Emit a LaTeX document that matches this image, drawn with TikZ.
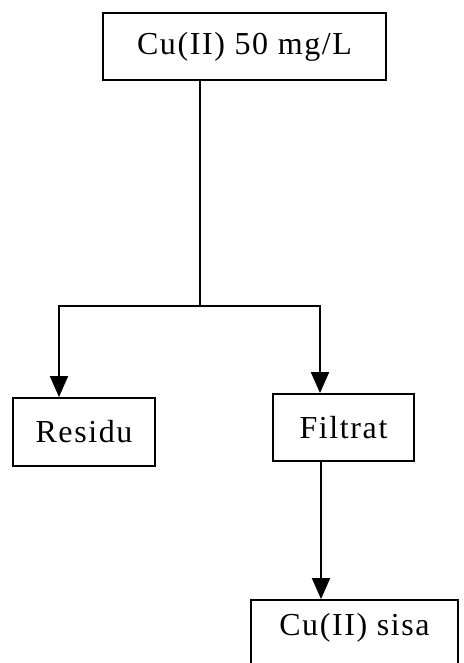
\documentclass[tikz,border=0pt]{standalone}
\usepackage{fontspec}
\setmainfont{Liberation Serif}
\usetikzlibrary{arrows.meta}
\tikzset{
  box/.style={draw, line width=1.9pt, rectangle, inner sep=0pt,
    font=\fontsize{32}{36}\selectfont\addfontfeature{LetterSpace=5}},
  link/.style={line width=1.9pt},
  arr/.style={line width=1.9pt, -{Triangle[width=18pt,length=21pt]}},
}
\begin{document}
\begin{tikzpicture}[x=1pt, y=-1pt]
  \useasboundingbox (0,0) rectangle (463,663);
  \clip (0,0) rectangle (463,663);
  % boxes
  \node[box, minimum width=283pt, minimum height=67pt] (top) at (244.5,46.5) {Cu(II) 50 mg/L};
  \node[box, minimum width=142pt, minimum height=68pt] (residu) at (84,432) {Residu};
  \node[box, minimum width=141pt, minimum height=67pt] (filtrat) at (343.5,427.5) {Filtrat};
  \node[box, minimum width=207pt, minimum height=100pt, text depth=52pt] (sisa) at (354.5,650) {Cu(II) sisa};
  % branch points
  \coordinate (split) at (200,306);
  \coordinate (lc) at (59,306);
  \coordinate (rc) at (320,306);
  \coordinate (fs) at (321,470);
  % connectors
  \draw[link] (top.south -| split) -- (split);
  \draw[arr] (split) -| (lc |- residu.north);
  \draw[arr] (split) -| (rc |- filtrat.north);
  \draw[arr] (filtrat.south -| fs) -- (fs |- sisa.north);
\end{tikzpicture}
\end{document}
